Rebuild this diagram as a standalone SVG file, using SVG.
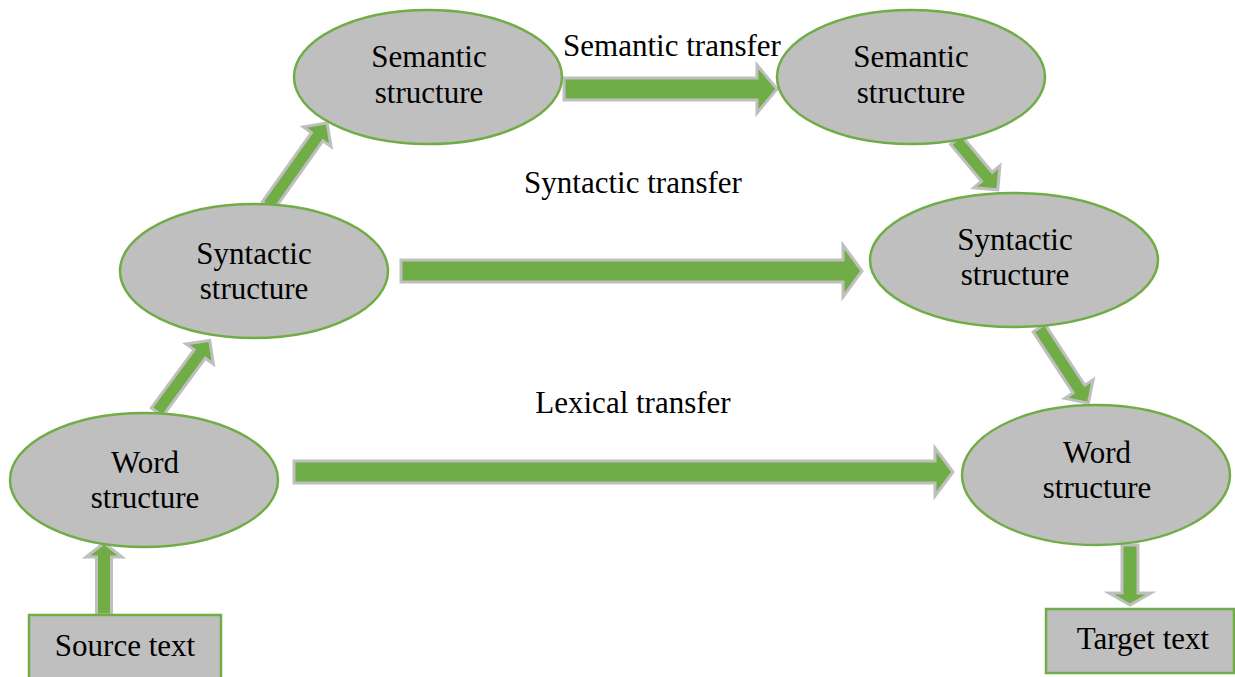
<svg xmlns="http://www.w3.org/2000/svg" width="1235" height="677" viewBox="0 0 1235 677">
<style>
.node{fill:#BFBFBF;stroke:#70AD47;stroke-width:2.5}
.arr{fill:#70AD47;stroke:#BFBFBF;stroke-width:3;stroke-linejoin:miter}
.t{font-family:"Liberation Serif","Times New Roman",serif;font-size:31px;fill:#000;text-anchor:middle}
</style>
<rect width="1235" height="677" fill="#fff"/>
<g id="connectors">
<path class="arr" transform="translate(104,615) rotate(-90)" d="M0,-7.5 H58 V-18 L72,0 L58,18 V7.5 H0 Z"/>
<path class="arr" transform="translate(157,412) rotate(-53.6)" d="M0,-7 H72 V-17 L89,0 L72,17 V7 H0 Z"/>
<path class="arr" transform="translate(268,206) rotate(-54.6)" d="M0,-7 H85 V-17 L102,0 L85,17 V7 H0 Z"/>
<path class="arr" transform="translate(564,89)" d="M0,-11 H193 V-24 L213,0 L193,24 V11 H0 Z"/>
<path class="arr" transform="translate(956,140) rotate(50)" d="M0,-7 H48 V-17 L65,0 L48,17 V7 H0 Z"/>
<path class="arr" transform="translate(401,271)" d="M0,-11 H442 V-26 L461,0 L442,26 V11 H0 Z"/>
<path class="arr" transform="translate(1039,328) rotate(56.8)" d="M0,-7 H73 V-17 L90,0 L73,17 V7 H0 Z"/>
<path class="arr" transform="translate(294,472)" d="M0,-11 H641 V-24 L659,0 L641,24 V11 H0 Z"/>
<path class="arr" transform="translate(1130,545) rotate(90)" d="M0,-8 H48 V-21 L60,0 L48,21 V8 H0 Z"/>
</g>
<g id="lbl-semantic-transfer"><text class="t" x="672" y="56">Semantic transfer</text></g>
<g id="lbl-syntactic-transfer"><text class="t" x="633" y="193">Syntactic transfer</text></g>
<g id="lbl-lexical-transfer"><text class="t" x="633" y="413">Lexical transfer</text></g>
<g id="sem-src"><ellipse class="node" cx="428" cy="77" rx="134" ry="67"/><text class="t" x="429" y="67">Semantic</text><text class="t" x="429" y="103">structure</text></g>
<g id="sem-tgt"><ellipse class="node" cx="911" cy="77" rx="134" ry="67"/><text class="t" x="911" y="67">Semantic</text><text class="t" x="911" y="103">structure</text></g>
<g id="syn-src"><ellipse class="node" cx="254" cy="271" rx="134" ry="67"/><text class="t" x="254" y="264">Syntactic</text><text class="t" x="254" y="299">structure</text></g>
<g id="syn-tgt"><ellipse class="node" cx="1014" cy="260" rx="144" ry="67"/><text class="t" x="1015" y="250">Syntactic</text><text class="t" x="1015" y="285">structure</text></g>
<g id="word-src"><ellipse class="node" cx="144" cy="480" rx="134" ry="67"/><text class="t" x="145" y="473">Word</text><text class="t" x="145" y="508">structure</text></g>
<g id="word-tgt"><ellipse class="node" cx="1096" cy="475" rx="134" ry="70"/><text class="t" x="1097" y="463">Word</text><text class="t" x="1097" y="498">structure</text></g>
<g id="source-text"><rect class="node" x="29" y="615" width="192" height="70" stroke-width="3"/><text class="t" x="125" y="656">Source text</text></g>
<g id="target-text"><rect class="node" x="1046" y="609" width="188" height="64" stroke-width="3"/><text class="t" x="1143" y="649">Target text</text></g>
</svg>
